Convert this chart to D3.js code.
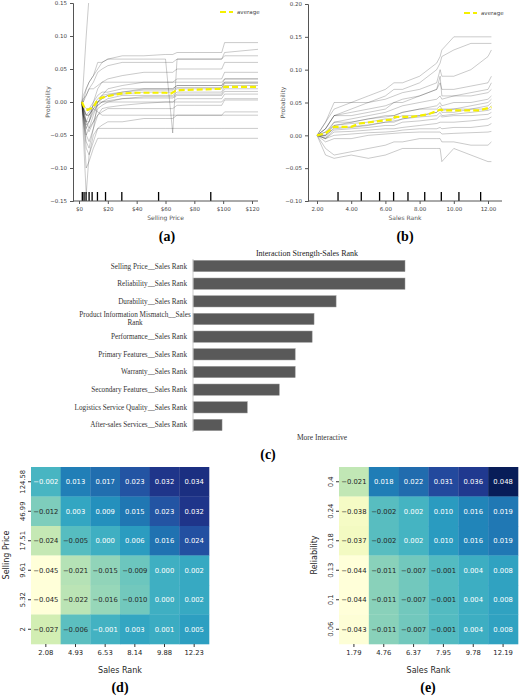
<!DOCTYPE html>
<html><head><meta charset="utf-8">
<script src="https://cdn.jsdelivr.net/npm/d3@7/dist/d3.min.js"></script>
<style>body{margin:0;background:#fff}svg{display:block}</style></head>
<body><svg id="c" width="520" height="696"></svg>
<script>
// ---------- data ----------
const aX = [2,3,5,7,10,13,16,20,30,45,60,65,68,80,99,101,125];
const aCurves = [
 [0,0.01,0.02,0.03,0.04,0.05,0.06,0.065,0.07,0.07,0.072,0.072,0.075,0.075,0.075,0.09,0.09],
 [0,0.005,0.01,0.02,0.03,0.045,0.05,0.055,0.06,0.06,0.06,0.06,0.065,0.065,0.065,0.075,0.08],
 [0,-0.02,-0.04,-0.03,0.0,0.02,0.03,0.035,0.04,0.045,0.045,0.045,0.05,0.05,0.05,0.06,0.06],
 [0,-0.03,-0.06,-0.07,-0.04,0.0,0.01,0.02,0.025,0.03,0.03,0.03,0.035,0.035,0.035,0.045,0.045],
 [0,-0.02,-0.05,-0.04,-0.02,0.0,0.005,0.01,0.015,0.02,0.02,0.02,0.025,0.025,0.025,0.035,0.035],
 [0,-0.01,-0.03,-0.03,-0.01,0.0,0.005,0.01,0.012,0.015,0.015,0.015,0.02,0.02,0.02,0.03,0.03],
 [0,-0.005,-0.02,-0.02,-0.01,-0.005,0.0,0.005,0.01,0.01,0.01,0.01,0.015,0.015,0.015,0.025,0.025],
 [0,-0.01,-0.04,-0.045,-0.03,-0.01,-0.005,0.0,0.005,0.008,0.008,0.008,0.012,0.012,0.012,0.02,0.02],
 [0,-0.02,-0.05,-0.06,-0.04,-0.02,-0.01,-0.008,-0.005,-0.002,0.0,0.0,0.005,0.005,0.005,0.012,0.012],
 [0,-0.01,-0.03,-0.04,-0.03,-0.02,-0.015,-0.01,-0.01,-0.01,-0.01,-0.01,-0.005,-0.005,-0.005,0.003,0.003],
 [0,-0.02,-0.07,-0.08,-0.06,-0.04,-0.035,-0.03,-0.03,-0.025,-0.025,-0.025,-0.02,-0.02,-0.02,-0.015,-0.015],
 [0,-0.03,-0.1,-0.09,-0.07,-0.055,-0.055,-0.055,-0.055,-0.055,-0.055,-0.055,-0.055,-0.055,-0.055,-0.055,-0.055],
 [0,-0.05,-0.14,-0.08,-0.05,-0.04,-0.04,-0.04,-0.04,-0.04,-0.04,-0.04,-0.04,-0.04,-0.04,-0.04,-0.04],
 [0,0.0,0.01,0.02,0.02,0.025,0.03,0.03,0.03,0.03,0.03,0.03,0.03,0.03,0.03,0.035,0.035],
 [0,-0.01,-0.02,-0.015,-0.005,0.0,0.0,0.0,0.0,0.0,0.0,0.0,0.0,0.0,0.0,0.005,0.005],
 [0,-0.02,-0.03,-0.02,-0.01,-0.015,-0.02,-0.02,-0.02,-0.02,-0.02,-0.02,-0.02,-0.02,-0.02,-0.02,-0.02],
 [0,0.0,0.02,0.03,0.04,0.06,0.06,0.065,0.065,0.065,0.065,-0.047,0.065,0.065,0.065,0.07,0.07],
 [0,0.03,0.1,0.16,0.2,0.2,0.2,0.2,0.2,0.2,0.2,0.2,0.2,0.2,0.2,0.2,0.2],
 [0,-0.005,-0.01,-0.01,0.0,0.01,0.015,0.015,0.02,0.02,0.02,0.02,0.025,0.025,0.025,0.03,0.03],
 [0,-0.01,-0.02,-0.02,-0.005,0.005,0.01,0.012,0.015,0.018,0.018,0.018,0.022,0.022,0.022,0.028,0.028],
 [0,-0.015,-0.035,-0.03,-0.015,-0.005,0.0,0.002,0.005,0.006,0.006,0.006,0.01,0.01,0.01,0.016,0.016]
];
const aAvgX = [2,4,6,8,10,12,15,20,30,40,60,64,67,70,99,101,125];
const aAvg = [0,-0.01,-0.012,-0.01,-0.008,0.0,0.006,0.009,0.013,0.014,0.014,0.013,0.017,0.018,0.020,0.023,0.023];
const aRug = [2.3,3.5,4.9,7,9.1,12.8,18.4,29.7,55.2,91.4];
const aTicks = [0,20,40,60,80,100,120];

const bX = [2,2.5,3,4,5,6,6.5,7,8,9,9.2,9.3,10,11,12,12.2];
const bCurves = [
 [0,0.02,0.04,0.05,0.06,0.07,0.08,0.08,0.09,0.11,0.12,0.13,0.15,0.15,0.15,0.15],
 [0,0.01,0.03,0.04,0.05,0.06,0.07,0.07,0.08,0.1,0.11,0.12,0.13,0.14,0.14,0.14],
 [0,0.02,0.05,0.05,0.05,0.055,0.06,0.065,0.07,0.08,0.1,0.09,0.09,0.1,0.12,0.13],
 [0,0.01,0.03,0.035,0.04,0.045,0.05,0.055,0.06,0.07,0.08,0.07,0.07,0.075,0.08,0.09],
 [0,0.0,0.02,0.025,0.03,0.035,0.04,0.045,0.05,0.055,0.06,0.055,0.06,0.06,0.065,0.07],
 [0,0.005,0.015,0.02,0.025,0.03,0.03,0.035,0.04,0.045,0.05,0.045,0.05,0.05,0.055,0.06],
 [0,0.0,0.01,0.012,0.015,0.02,0.022,0.025,0.03,0.035,0.04,0.038,0.04,0.04,0.045,0.05],
 [0,-0.005,0.008,0.01,0.012,0.015,0.015,0.02,0.022,0.025,0.03,0.028,0.03,0.03,0.032,0.035],
 [0,-0.005,0.005,0.006,0.008,0.01,0.01,0.012,0.015,0.018,0.02,0.02,0.02,0.022,0.025,0.028],
 [0,-0.005,0.0,0.002,0.004,0.005,0.006,0.008,0.01,0.01,0.012,0.01,0.012,0.012,0.015,0.018],
 [0,-0.01,-0.005,-0.005,0.0,0.002,0.003,0.004,0.005,0.005,0.005,0.002,0.003,0.004,0.005,0.006],
 [0,-0.02,-0.03,-0.025,-0.02,-0.015,-0.01,-0.01,-0.005,-0.005,-0.005,-0.01,-0.01,-0.015,-0.015,-0.01],
 [0,-0.03,-0.035,-0.03,-0.035,-0.03,-0.025,-0.02,-0.02,-0.02,-0.02,-0.04,-0.02,-0.03,-0.04,-0.04],
 [0,0.01,0.03,0.03,0.035,0.04,0.05,0.05,0.06,0.07,0.09,0.06,0.06,0.065,0.07,0.08],
 [0,0.0,0.015,0.018,0.02,0.025,0.025,0.03,0.03,0.035,0.04,0.035,0.035,0.04,0.04,0.045],
 [0,0.005,0.02,0.02,0.025,0.028,0.03,0.035,0.04,0.04,0.045,0.04,0.04,0.045,0.05,0.055],
 [0,-0.003,0.012,0.013,0.016,0.02,0.02,0.025,0.028,0.03,0.035,0.03,0.032,0.035,0.038,0.04]
];
const bAvgX = [2,2.5,3,4,4.5,6,6.45,6.55,7.5,8.5,9.2,9.5,11.5,12.2];
const bAvg = [0,0.003,0.013,0.013,0.018,0.023,0.024,0.028,0.028,0.032,0.039,0.038,0.038,0.043];
const bRug = [3.23,4.59,5.66,6.48,7.32,8.30,9.27,10.30,11.57];
const bTicks = [2,4,6,8,10,12];

const cLabels = ["Selling Price__Sales Rank","Reliability__Sales Rank","Durability__Sales Rank",
 "Product Information Mismatch__Sales Rank","Performance__Sales Rank","Primary Features__Sales Rank",
 "Warranty__Sales Rank","Secondary Features__Sales Rank","Logistics Service Quality__Sales Rank",
 "After-sales Services__Sales Rank"];
const cValues = [1.0,1.0,0.675,0.571,0.562,0.482,0.482,0.407,0.256,0.137];

const dCols = ["2.08","4.93","6.53","8.14","9.88","12.23"];
const dRows = ["124.58","46.99","17.51","9.61","5.32","2"];
const dValues = [
 [-0.002,0.013,0.017,0.023,0.032,0.034],
 [-0.012,0.003,0.009,0.015,0.023,0.032],
 [-0.024,-0.005,-0.000,0.006,0.016,0.024],
 [-0.045,-0.021,-0.015,-0.009,0.000,0.002],
 [-0.045,-0.022,-0.016,-0.010,0.000,0.002],
 [-0.027,-0.006,-0.001,0.003,0.001,0.005]];
const eCols = ["1.79","4.76","6.37","7.95","9.78","12.19"];
const eRows = ["0.4","0.24","0.18","0.13","0.1","0.06"];
const eValues = [
 [-0.021,0.018,0.022,0.031,0.036,0.048],
 [-0.038,-0.002,0.002,0.010,0.016,0.019],
 [-0.037,-0.002,0.002,0.010,0.016,0.019],
 [-0.044,-0.011,-0.007,-0.001,0.004,0.008],
 [-0.044,-0.011,-0.007,-0.001,0.004,0.008],
 [-0.043,-0.011,-0.007,-0.001,0.004,0.008]];

// ---------- drawing ----------
const svg = d3.select("#c");
const serif = "Liberation Serif, Times New Roman, serif";
const sans = "DejaVu Sans, sans-serif";

function panelLabel(t,x,y){
  svg.append("text").attr("x",x).attr("y",y).attr("text-anchor","middle")
   .attr("font-family",serif).attr("font-weight","bold").attr("font-size",14).text(t);
}

function ice(o){
  const g = svg.append("g");
  const x = d3.scaleLinear().domain(o.xd).range([o.x0,o.x1]);
  const y = d3.scaleLinear().domain(o.yd).range([o.y1,o.y0]);
  const clipId = "clip"+o.id;
  svg.append("clipPath").attr("id",clipId).append("rect")
    .attr("x",o.ax).attr("y",o.y0).attr("width",o.right-o.ax).attr("height",o.y1-o.y0);
  const pg = g.append("g").attr("clip-path",`url(#${clipId})`);
  const line = d3.line().x((d,i)=>x(o.xs[i])).y(d=>y(d));
  o.curves.forEach(c=>pg.append("path").attr("d",line(c)).attr("fill","none")
    .attr("stroke","#000").attr("stroke-opacity",0.35).attr("stroke-width",0.6));
  const al = d3.line().x((d,i)=>x(o.avgX[i])).y(d=>y(d));
  pg.append("path").attr("d",al(o.avg)).attr("fill","none").attr("stroke","#f5f000")
    .attr("stroke-width",2.2).attr("stroke-dasharray","6,3");
  o.rug.forEach(v=>g.append("line").attr("x1",x(v)).attr("x2",x(v)).attr("y1",o.y1-9).attr("y2",o.y1)
    .attr("stroke","#000").attr("stroke-width",1.3));
  const ya = g.append("g").attr("transform",`translate(${o.ax},0)`)
    .call(d3.axisLeft(y).tickValues(o.yt).tickFormat(d3.format(".2f")).tickSize(3));
  const xa = g.append("g").attr("transform",`translate(0,${o.y1})`)
    .call(d3.axisBottom(x).tickValues(o.xt).tickFormat(o.xf).tickSize(3));
  xa.select(".domain").attr("d",`M${o.ax},0H${o.right}`);
  [ya,xa].forEach(a=>{a.selectAll("path,line").attr("stroke","#555");
    a.selectAll("text").attr("font-family",sans).attr("font-size",5.5).attr("fill","#444");});
  ya.selectAll("text").text(function(){return this.textContent.replace("-","\u2212");});
  g.append("text").attr("x",(o.ax+o.right)/2).attr("y",o.y1+19).attr("text-anchor","middle")
    .attr("font-family",sans).attr("font-size",6).attr("fill","#555").text(o.xl);
  g.append("text").attr("transform",`translate(${o.ax-23},${(o.y0+o.y1)/2}) rotate(-90)`)
    .attr("text-anchor","middle").attr("font-family",sans).attr("font-size",6).attr("fill","#555").text("Probability");
  g.append("line").attr("x1",o.right-38).attr("x2",o.right-25).attr("y1",o.y0+9).attr("y2",o.y0+9)
    .attr("stroke","#f5f000").attr("stroke-width",2.2).attr("stroke-dasharray","6,3");
  g.append("text").attr("x",o.right-21).attr("y",o.y0+11).attr("font-family",sans).attr("font-size",5.5)
    .attr("fill","#444").text("average");
}
ice({id:"a",xs:aX,curves:aCurves,avgX:aAvgX,avg:aAvg,rug:aRug,xd:[0,120],x0:79,x1:252,ax:73,right:258,
  yd:[-0.15,0.15],y0:3,y1:201,yt:[-0.15,-0.1,-0.05,0,0.05,0.1,0.15],xt:aTicks,xf:d=>"$"+d,xl:"Selling Price"});
ice({id:"b",xs:bX,curves:bCurves,avgX:bAvgX,avg:bAvg,rug:bRug,xd:[2,12],x0:317,x1:488,ax:308,right:502,
  yd:[-0.1,0.2],y0:4,y1:201,yt:[-0.1,-0.05,0,0.05,0.1,0.15,0.2],xt:bTicks,xf:d3.format(".2f"),xl:"Sales Rank"});
panelLabel("(a)",167,241);
panelLabel("(b)",405,241);

// bar chart (c)
{
  const x = d3.scaleLinear().domain([0,1]).range([193,405]);
  const y = d3.scaleBand().domain(cLabels).range([260,431]).paddingInner(0.36).paddingOuter(0.02);
  const g = svg.append("g");
  g.selectAll("rect").data(cValues).join("rect").attr("x",x(0)).attr("y",(d,i)=>y(cLabels[i]))
    .attr("width",d=>x(d)-x(0)).attr("height",y.bandwidth()).attr("fill","#595959")
    .attr("stroke","#999").attr("stroke-width",0.5);
  g.append("line").attr("x1",x(0)).attr("x2",x(0)).attr("y1",259).attr("y2",432).attr("stroke","#ccc");
  cLabels.forEach((l,i)=>{
    const cy = y(l)+y.bandwidth()/2;
    if(l.startsWith("Product")){
      const t=g.append("text").attr("text-anchor","middle").attr("font-family",serif).attr("font-size",7.2).attr("fill","#333");
      t.append("tspan").attr("x",135).attr("y",cy-2).text("Product Information Mismatch__Sales");
      t.append("tspan").attr("x",135).attr("y",cy+6).text("Rank");
    } else {
      g.append("text").attr("x",187).attr("y",cy+2.5).attr("text-anchor","end").attr("font-family",serif)
        .attr("font-size",7.2).attr("fill","#333").text(l);
    }
  });
  g.append("text").attr("x",307).attr("y",256).attr("text-anchor","middle").attr("font-family",serif)
    .attr("font-size",8).attr("fill","#222").text("Interaction Strength-Sales Rank");
  g.append("text").attr("x",322).attr("y",440).attr("text-anchor","middle").attr("font-family",serif)
    .attr("font-size",7.5).attr("fill","#333").text("More Interactive");
  panelLabel("(c)",268,459);
}

// heatmaps
function lum(c){const r=d3.rgb(c);const f=v=>{v/=255;return v<=0.03928?v/12.92:Math.pow((v+0.055)/1.055,2.4);};
  return 0.2126*f(r.r)+0.7152*f(r.g)+0.0722*f(r.b);}
function heat(o){
  const g = svg.append("g");
  const x = d3.scaleBand().domain(o.cols).range([o.x0,o.x1]);
  const y = d3.scaleBand().domain(o.rows).range([467,644]);
  const flat = o.vals.flat();
  const ext = d3.extent(flat);
  const col = d3.scaleSequential(d3.interpolateYlGnBu).domain([ext[0], ext[1]+o.pad]);
  o.vals.forEach((row,i)=>row.forEach((v,j)=>{
    const c = col(v);
    g.append("rect").attr("x",x(o.cols[j])).attr("y",y(o.rows[i])).attr("width",x.bandwidth()+0.3)
      .attr("height",y.bandwidth()+0.3).attr("fill",c);
    g.append("text").attr("x",x(o.cols[j])+x.bandwidth()/2).attr("y",y(o.rows[i])+y.bandwidth()/2+2.5)
      .attr("text-anchor","middle").attr("font-family",sans).attr("font-size",6.8)
      .attr("fill",lum(c)>0.408?"#262626":"#fff").text(d3.format(".3f")(v).replace("-","\u2212"));
  }));
  const xa = g.append("g").attr("transform","translate(0,644)").call(d3.axisBottom(x).tickSize(3));
  const ya = g.append("g").attr("transform",`translate(${o.x0},0)`).call(d3.axisLeft(y).tickSize(3));
  [xa,ya].forEach(a=>{a.select(".domain").remove();a.selectAll("line").attr("stroke","#333");
    a.selectAll("text").attr("font-family",sans).attr("font-size",6.8).attr("fill","#262626");});
  ya.selectAll(".tick text").each(function(){
    d3.select(this).attr("transform","rotate(-90)").attr("text-anchor","middle").attr("x",0).attr("dx",0)
      .attr("y",-6).attr("dy",0);});
  g.append("text").attr("x",(o.x0+o.x1)/2).attr("y",673).attr("text-anchor","middle").attr("font-family",sans)
    .attr("font-size",8).attr("fill","#262626").text("Sales Rank");
  g.append("text").attr("transform",`translate(${o.x0-22},555) rotate(-90)`).attr("text-anchor","middle")
    .attr("font-family",sans).attr("font-size",8).attr("fill","#262626").text(o.yl);
}
heat({cols:dCols,rows:dRows,vals:dValues,x0:31,x1:209,yl:"Selling Price",pad:0.008});
heat({cols:eCols,rows:eRows,vals:eValues,x0:339,x1:518,yl:"Reliability",pad:0});
panelLabel("(d)",120,692);
panelLabel("(e)",428,692);
</script></body></html>
